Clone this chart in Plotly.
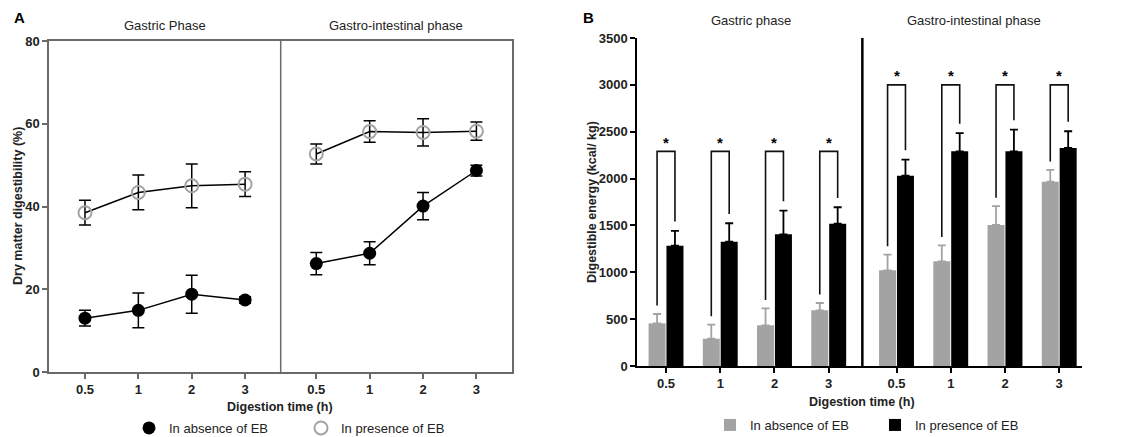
import plotly.graph_objects as go

# ---------------- data ----------------
time_labels = ["0.5", "1", "2", "3"]
phases_A = ["Gastric Phase", "Gastro-intestinal phase"]
phases_B = ["Gastric phase", "Gastro-intestinal phase"]
series_names = ["In absence of EB", "In presence of EB"]

# Panel A: dry matter digestibility (%)
dm_absence_gastric = [13.0, 14.9, 18.8, 17.4]
dm_absence_gastric_sd = [1.9, 4.2, 4.6, 0.8]
dm_absence_gi = [26.2, 28.7, 40.1, 48.7]
dm_absence_gi_sd = [2.7, 2.8, 3.3, 1.3]
dm_presence_gastric = [38.5, 43.4, 45.0, 45.4]
dm_presence_gastric_sd = [3.0, 4.2, 5.3, 3.0]
dm_presence_gi = [52.7, 58.1, 57.9, 58.2]
dm_presence_gi_sd = [2.4, 2.6, 3.3, 2.2]

# Panel B: digestible energy (kcal/kg), gastric 4 then gastro-intestinal 4
de_absence = [455, 291, 434, 594, 1021, 1117, 1505, 1967]
de_absence_sd = [100, 150, 180, 78, 167, 170, 200, 125]
de_presence = [1284, 1327, 1405, 1519, 2031, 2291, 2291, 2326]
de_presence_sd = [157, 196, 252, 175, 171, 195, 231, 179]
sig_marks = ["*"] * 8
bracket_tops = [2290, 2290, 2290, 2290, 3000, 3000, 3000, 3000]

# ---------------- layout helpers ----------------
W, H = 1135, 437
FONT = "Liberation Sans, Arial, sans-serif"
GREY = "#a3a3a3"
FRAME = "#6a6a6a"

def px_x(p):
    return p / W

def px_y(p):
    return (H - p) / H

gapA = 4.0 / 3.0
xA_g = [i for i in range(4)]
xA_i = [3 + gapA + i for i in range(4)]
divA = 3 + gapA / 2

gapB = 1.25
xB = [i for i in range(4)] + [3 + gapB + i for i in range(4)]
divB = 3 + 0.62

fig = go.Figure()

# ---- Panel A lines (per phase, no legend) ----
for xs, ys in [(xA_g, dm_absence_gastric), (xA_i, dm_absence_gi),
               (xA_g, dm_presence_gastric), (xA_i, dm_presence_gi)]:
    fig.add_trace(go.Scatter(x=xs, y=ys, mode="lines", line=dict(color="black", width=1.5),
                             showlegend=False, hoverinfo="skip", xaxis="x", yaxis="y"))

# ---- Panel A markers ----
fig.add_trace(go.Scatter(
    x=xA_g + xA_i, y=dm_absence_gastric + dm_absence_gi, mode="markers",
    name=series_names[0], legend="legend",
    marker=dict(symbol="circle", size=13, color="black"),
    error_y=dict(type="data", array=dm_absence_gastric_sd + dm_absence_gi_sd,
                 color="black", thickness=1.5, width=6),
    xaxis="x", yaxis="y"))
fig.add_trace(go.Scatter(
    x=xA_g + xA_i, y=dm_presence_gastric + dm_presence_gi, mode="markers",
    name=series_names[1], legend="legend",
    marker=dict(symbol="circle-open", size=13, color=GREY, line=dict(width=2, color=GREY)),
    error_y=dict(type="data", array=dm_presence_gastric_sd + dm_presence_gi_sd,
                 color="black", thickness=1.5, width=6),
    xaxis="x", yaxis="y"))

# ---- Panel B bars ----
fig.add_trace(go.Bar(
    x=xB, y=de_absence, name=series_names[0], legend="legend2",
    marker=dict(color=GREY, line=dict(width=0)),
    error_y=dict(type="data", array=de_absence_sd, arrayminus=[0] * 8, symmetric=False,
                 color=GREY, thickness=1.8, width=4),
    xaxis="x2", yaxis="y2"))
fig.add_trace(go.Bar(
    x=xB, y=de_presence, name=series_names[1], legend="legend2",
    marker=dict(color="black", line=dict(width=0)),
    error_y=dict(type="data", array=de_presence_sd, arrayminus=[0] * 8, symmetric=False,
                 color="black", thickness=1.8, width=4),
    xaxis="x2", yaxis="y2"))

shapes = []
annotations = []

# Panel A divider
shapes.append(dict(type="line", xref="x", yref="y", x0=divA, x1=divA,
                   y0=0, y1=80, line=dict(color=FRAME, width=1.5)))

# Panel B divider
shapes.append(dict(type="line", xref="x2", yref="y2", x0=divB, x1=divB,
                   y0=0, y1=3500, line=dict(color="black", width=2.5)))

# significance brackets in panel B
off = 0.165
for i, xc in enumerate(xB):
    xl, xr = xc - off, xc + off
    yl = de_absence[i] + de_absence_sd[i] + 90
    yr = de_presence[i] + de_presence_sd[i] + 100
    top = bracket_tops[i]
    shapes.append(dict(type="path", xref="x2", yref="y2",
                       path=f"M {xl},{yl} L {xl},{top} L {xr},{top} L {xr},{yr}",
                       line=dict(color="#111111", width=1.6)))
    annotations.append(dict(x=xc, y=top - 12, xref="x2", yref="y2", text=f"<b>{sig_marks[i]}</b>",
                            showarrow=False, xanchor="center", yanchor="bottom",
                            font=dict(family=FONT, size=15, color="black")))

def label(text, xc, yc, size, angle=0, color="#222222"):
    annotations.append(dict(x=px_x(xc), y=px_y(yc), xref="paper", yref="paper", text=text,
                            textangle=angle, showarrow=False, xanchor="center", yanchor="middle",
                            font=dict(family=FONT, size=size, color=color)))

# panel letters
label("<b>A</b>", 19, 18, 15, color="black")
label("<b>B</b>", 588, 18, 15, color="black")

# phase titles
label(phases_A[0], 165, 25, 13)
label(phases_A[1], 396, 25, 13)
label(phases_B[0], 751, 21, 13)
label(phases_B[1], 974, 21, 13)

# axis titles
label("<b>Dry matter digestibility (%)</b>", 18, 206, 12.5, angle=-90)
label("<b>Digestible energy (kcal/ kg)</b>", 592, 202, 12.5, angle=-90)
label("<b>Digestion time (h)</b>", 280, 407, 12.5)
label("<b>Digestion time (h)</b>", 862, 402, 12.5)

tickfont = dict(family=FONT, size=13, color="#222222", weight="bold")

fig.update_layout(
    width=W, height=H,
    margin=dict(l=0, r=0, t=0, b=0, autoexpand=False),
    paper_bgcolor="white", plot_bgcolor="white",
    font=dict(family=FONT, color="#222222"),
    barmode="group", bargap=0.34, bargroupgap=0.05,
    shapes=shapes, annotations=annotations,
    xaxis=dict(domain=[px_x(49), px_x(512)], range=[-0.674, 8.0],
               tickmode="array", tickvals=xA_g + xA_i, ticktext=time_labels * 2,
               showline=True, linecolor=FRAME, linewidth=1.5, mirror=True,
               ticks="outside", ticklen=5, tickcolor=FRAME, tickwidth=1.5,
               showgrid=False, zeroline=False, tickfont=tickfont, automargin=False),
    yaxis=dict(domain=[px_y(372), px_y(41)], range=[0, 80], tickvals=[0, 20, 40, 60, 80],
               showline=True, linecolor=FRAME, linewidth=1.5, mirror=True,
               ticks="outside", ticklen=5, tickcolor=FRAME, tickwidth=1.5,
               showgrid=False, zeroline=False, tickfont=tickfont, automargin=False),
    xaxis2=dict(domain=[px_x(637), px_x(1082)], range=[-0.535, 7.67], anchor="y2",
                tickmode="array", tickvals=xB, ticktext=time_labels * 2,
                showline=True, linecolor="black", linewidth=1.5,
                ticks="outside", ticklen=5, tickcolor="black", tickwidth=1.5,
                showgrid=False, zeroline=False, tickfont=tickfont, automargin=False),
    yaxis2=dict(domain=[px_y(366), px_y(38)], range=[0, 3500], anchor="x2",
                tickvals=[0, 500, 1000, 1500, 2000, 2500, 3000, 3500],
                showline=True, linecolor="black", linewidth=1.5,
                ticks="outside", ticklen=5, tickcolor="black", tickwidth=1.5,
                showgrid=False, zeroline=False, tickfont=tickfont, automargin=False),
    legend=dict(orientation="h", x=px_x(129), y=px_y(428), xanchor="left", yanchor="middle",
                entrywidth=127, font=dict(family=FONT, size=13, color="#222222"),
                bgcolor="rgba(0,0,0,0)", itemclick=False),
    legend2=dict(orientation="h", x=px_x(710), y=px_y(425), xanchor="left", yanchor="middle",
                 entrywidth=120, font=dict(family=FONT, size=13, color="#222222"),
                 bgcolor="rgba(0,0,0,0)", itemclick=False),
)

# remove the default 8px page margin so the figure fills the window exactly
fig.write_html("out.html",
               config={"displayModeBar": False},
               post_script="document.body.style.margin='0';document.body.style.overflow='hidden';")
